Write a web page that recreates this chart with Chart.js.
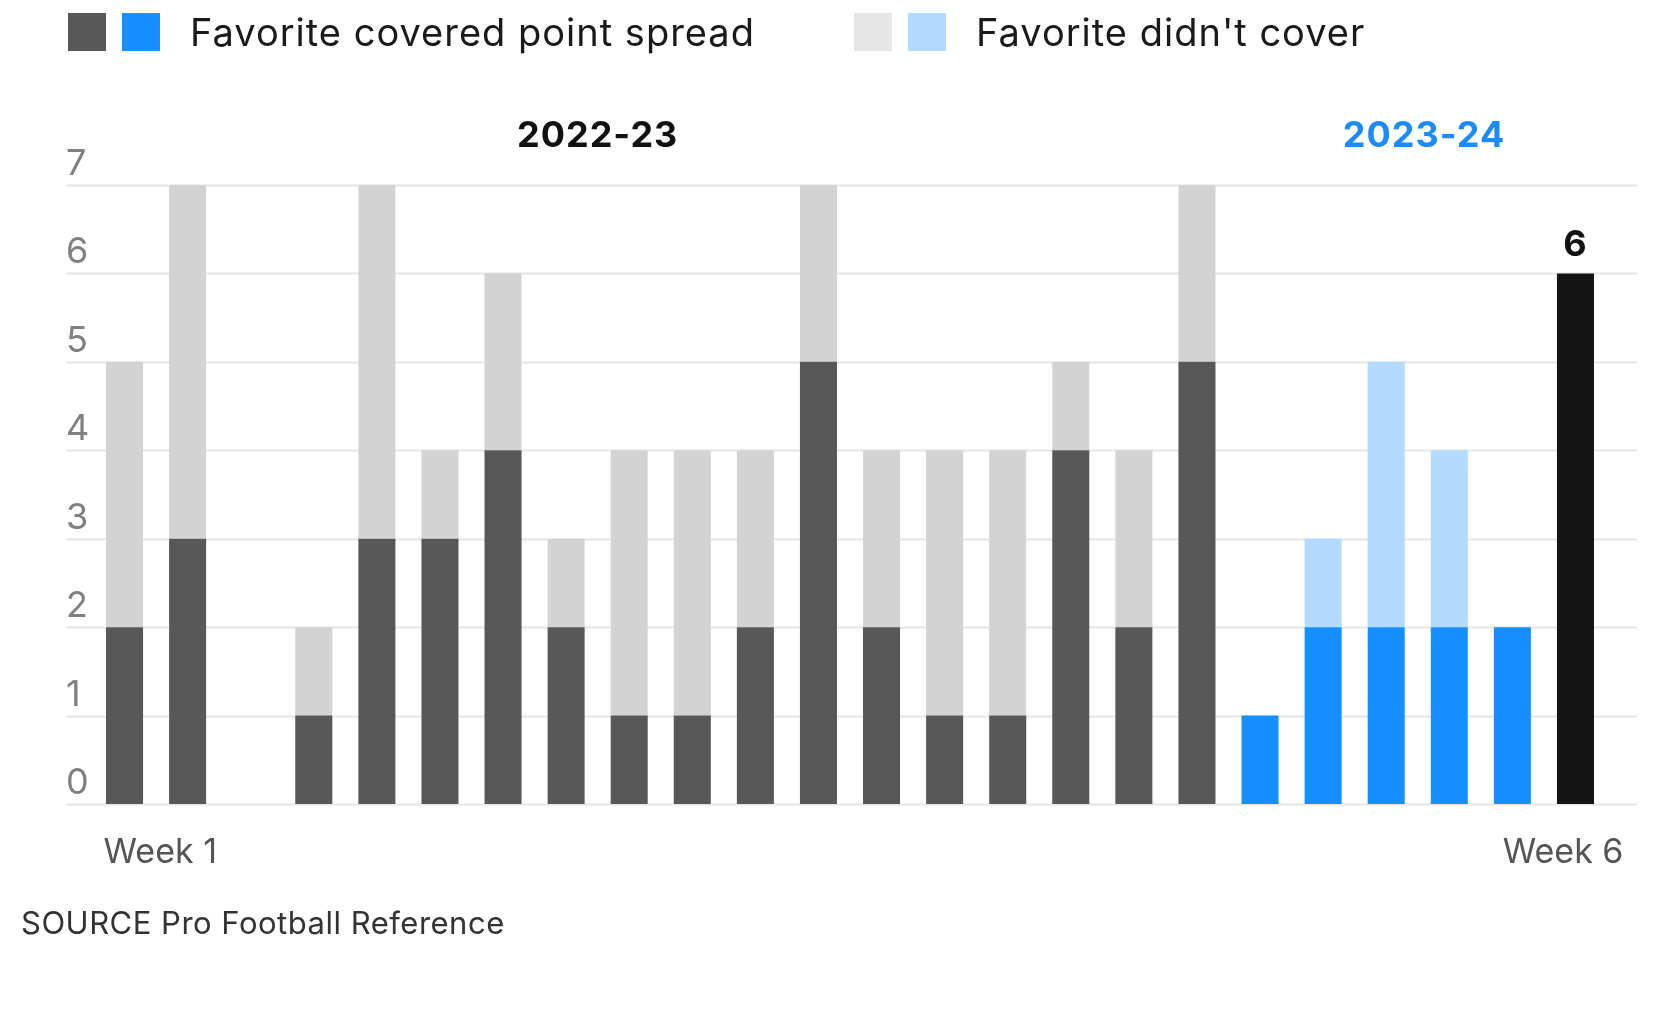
<!DOCTYPE html>
<html>
<head>
<meta charset="utf-8">
<script src="https://cdn.jsdelivr.net/npm/chart.js@4/dist/chart.umd.min.js"></script>
<style>
    body { margin: 0; background: #fff; font-family: Inter, sans-serif; }
    #wrap { position: relative; width: 1658px; height: 1024px; overflow: hidden; }
    canvas { position: absolute; left: 0; top: 0; }
    .legend { position: absolute; top: 9px; font-size: 38px; color: #1a1a1a; display: flex; align-items: center; white-space: nowrap; letter-spacing: 1px; }
    .sw { width: 38px; height: 38px; display: inline-block; margin-right: 16px; }
    .legend span.txt { margin-left: 14px; }
    .source { position: absolute; left: 21px; top: 904px; font-size: 31px; color: #333; white-space: nowrap; letter-spacing: 0.5px; }
</style>
</head>
<body>
<div id="wrap">
    <canvas id="spreadChart" width="1658" height="1024"></canvas>
    <div class="legend" style="left:68px">
        <i class="sw" style="background:#585858"></i><i class="sw" style="background:#1690ff"></i>
        <span class="txt">Favorite covered point spread</span>
    </div>
    <div class="legend" style="left:854px">
        <i class="sw" style="background:#e6e6e6"></i><i class="sw" style="background:#b3dbff"></i>
        <span class="txt">Favorite didn't cover</span>
    </div>
    <div class="source">SOURCE Pro Football Reference</div>
</div>
<script>
// Data
const weeks = [
    'Week 1', 'Week 2', 'Week 3', 'Week 4', 'Week 5', 'Week 6', 'Week 7', 'Week 8', 'Week 9',
    'Week 10', 'Week 11', 'Week 12', 'Week 13', 'Week 14', 'Week 15', 'Week 16', 'Week 17', 'Week 18',
    'Week 1', 'Week 2', 'Week 3', 'Week 4', 'Week 5', 'Week 6'
];
const seasons = [
    '2022-23', '2022-23', '2022-23', '2022-23', '2022-23', '2022-23', '2022-23', '2022-23', '2022-23',
    '2022-23', '2022-23', '2022-23', '2022-23', '2022-23', '2022-23', '2022-23', '2022-23', '2022-23',
    '2023-24', '2023-24', '2023-24', '2023-24', '2023-24', '2023-24'
];
const covered = [2, 3, 0, 1, 3, 3, 4, 2, 1, 1, 2, 5, 2, 1, 1, 4, 2, 5, 1, 2, 2, 2, 2, null];
const didntCover = [3, 4, 0, 1, 4, 1, 2, 1, 3, 3, 2, 2, 2, 3, 3, 1, 2, 2, 0, 1, 3, 2, 0, null];
const thisWeek = [null, null, null, null, null, null, null, null, null, null, null, null,
    null, null, null, null, null, null, null, null, null, null, null, 6];
const yTicks = [0, 1, 2, 3, 4, 5, 6, 7];
const axisLabels = ['Week 1', 'Week 6'];

const coveredColors = seasons.map(s => s === '2022-23' ? '#585858' : '#1690ff');
const didntColors = seasons.map(s => s === '2022-23' ? '#d3d3d3' : '#b3dbff');

// Custom drawing: grid, tick labels, season headers, week labels
const decorPlugin = {
    id: 'decor',
    beforeDatasetsDraw(chart) {
        const ctx = chart.ctx;
        const y = chart.scales.y;
        ctx.save();
        ctx.strokeStyle = '#e6e6e6';
        ctx.lineWidth = 2;
        ctx.fillStyle = '#808080';
        ctx.font = '36px Inter';
        ctx.textBaseline = 'middle';
        ctx.textAlign = 'left';
        yTicks.forEach(t => {
            const py = Math.round(y.getPixelForValue(t)) + 0.5;
            ctx.beginPath();
            ctx.moveTo(66, py);
            ctx.lineTo(1637, py);
            ctx.stroke();
            ctx.fillText(String(t), 66, py - 21);
        });
        ctx.restore();
    },
    afterDatasetsDraw(chart) {
        const ctx = chart.ctx;
        const x = chart.scales.x;
        const y = chart.scales.y;
        const step = x.getPixelForValue(1) - x.getPixelForValue(0);
        ctx.save();
        ctx.textBaseline = 'middle';
        ctx.textAlign = 'center';
        ctx.font = 'bold 36px Inter';
        ctx.letterSpacing = '1px';
        ctx.fillStyle = '#111';
        ctx.fillText('2022-23', x.getPixelForValue(0) + 7.5 * step, 136);
        ctx.fillStyle = '#1a8cff';
        ctx.fillText('2023-24', x.getPixelForValue(0) + 20.6 * step, 136);

        // value label on this week's bar
        const last = thisWeek.length - 1;
        ctx.fillStyle = '#111';
        ctx.fillText(String(thisWeek[last]), x.getPixelForValue(last), y.getPixelForValue(thisWeek[last]) - 28);

        // first / last week labels
        ctx.font = '34px Inter';
        ctx.letterSpacing = '0px';
        ctx.fillStyle = '#555';
        ctx.textAlign = 'left';
        ctx.fillText(axisLabels[0], x.getPixelForValue(0) - 21, 853);
        ctx.textAlign = 'right';
        ctx.fillText(axisLabels[1], x.getPixelForValue(last) + 48, 853);
        ctx.restore();
    }
};

const ctx = document.getElementById('spreadChart').getContext('2d');
new Chart(ctx, {
    type: 'bar',
    data: {
        labels: weeks,
        datasets: [
            { label: 'Favorite covered point spread', data: covered, backgroundColor: coveredColors },
            { label: "Favorite didn't cover", data: didntCover, backgroundColor: didntColors },
            { label: 'This week', data: thisWeek, backgroundColor: '#141414' }
        ]
    },
    options: {
        responsive: false,
        animation: false,
        layout: { padding: { left: 93, right: 51, top: 185, bottom: 220 } },
        datasets: {
            bar: { barPercentage: 0.587, categoryPercentage: 1, borderWidth: 0 }
        },
        plugins: {
            legend: { display: false },
            tooltip: { enabled: false }
        },
        scales: {
            x: { stacked: true, display: false },
            y: { stacked: true, display: false, min: 0, max: 7 }
        }
    },
    plugins: [decorPlugin]
});
</script>
</body>
</html>
